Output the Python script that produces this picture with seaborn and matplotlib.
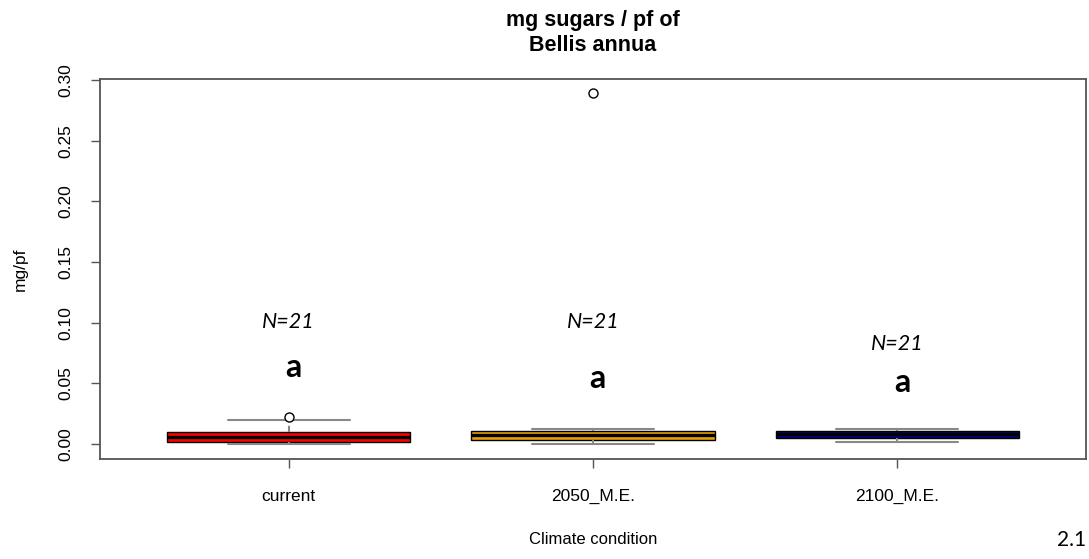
import numpy as np
import pandas as pd
import matplotlib
matplotlib.use("Agg")
import matplotlib.pyplot as plt
import seaborn as sns

categories = ["current", "2050_M.E.", "2100_M.E."]
current_vals = [0.0003, 0.0006, 0.0008, 0.0010, 0.0012, 0.0014, 0.0022, 0.0030, 0.0038, 0.0046, 0.0055,
                0.0062, 0.0070, 0.0078, 0.0087, 0.0096, 0.0110, 0.0130, 0.0160, 0.0198, 0.0225]
y2050_vals = [0.0002, 0.0010, 0.0016, 0.0022, 0.0028, 0.0033, 0.0041, 0.0050, 0.0058, 0.0066, 0.0074,
              0.0080, 0.0087, 0.0095, 0.0102, 0.0110, 0.0114, 0.0118, 0.0121, 0.0126, 0.2896]
y2100_vals = [0.0016, 0.0024, 0.0032, 0.0038, 0.0045, 0.0052, 0.0057, 0.0062, 0.0067, 0.0072, 0.0078,
              0.0083, 0.0088, 0.0094, 0.0100, 0.0107, 0.0111, 0.0115, 0.0118, 0.0121, 0.0124]
box_colors = ["#FF0000", "#E89F00", "#000080"]
n_labels = ["N=21", "N=21", "N=21"]
n_label_y = [0.1006, 0.1006, 0.0824]
letters = ["a", "a", "a"]
letter_y = [0.0627, 0.0536, 0.0503]
yticks = [0.00, 0.05, 0.10, 0.15, 0.20, 0.25, 0.30]

df = pd.DataFrame({
    "condition": np.repeat(categories, [len(current_vals), len(y2050_vals), len(y2100_vals)]),
    "value": current_vals + y2050_vals + y2100_vals,
})

sns.set_style("white")
plt.rcParams["font.family"] = ["Liberation Sans", "DejaVu Sans"]
plt.rcParams["text.color"] = "black"
plt.rcParams["axes.labelcolor"] = "black"
plt.rcParams["xtick.color"] = "black"
plt.rcParams["ytick.color"] = "black"

fig = plt.figure(figsize=(10.89, 5.59), dpi=100)
ax = fig.add_axes([100 / 1089, 1 - 459 / 559, 986 / 1089, 380 / 559])

sns.boxplot(
    data=df, x="condition", y="value", hue="condition", order=categories, hue_order=categories,
    palette=dict(zip(categories, box_colors)), saturation=1, width=0.8, whis=1.5,
    linecolor="black", linewidth=1.0, legend=False, ax=ax,
    whiskerprops=dict(color="#888888", linewidth=1.5, linestyle=(0, (3, 3))),
    capprops=dict(color="#888888", linewidth=1.5),
    medianprops=dict(color="black", linewidth=2.4),
    flierprops=dict(marker="o", markerfacecolor="white", markeredgecolor="black",
                    markersize=6.5, markeredgewidth=1.0),
)

ax.set_xlim(-0.62, 2.62)
ax.set_ylim(-0.0124, 0.3008)
ax.set_yticks(yticks)
ax.set_yticklabels([f"{t:.2f}" for t in yticks], rotation=90, va="center")
ax.tick_params(axis="y", length=6.5, width=1.0, color="#555555", labelcolor="black", pad=13,
               labelsize=12.5, left=True)
ax.tick_params(axis="x", length=6.5, width=1.0, color="#555555", labelcolor="black", pad=15,
               labelsize=12.5, bottom=True)
for s in ax.spines.values():
    s.set_visible(True)
    s.set_color("#555555")
    s.set_linewidth(1.3)

ax.set_xlabel("Climate condition", fontsize=12, color="black")
ax.set_ylabel("mg/pf", fontsize=12.5, color="black")
ax.xaxis.set_label_coords(0.5, -(532 - 459) / 380)
ax.yaxis.set_label_coords(-(100 - 28) / 986, 0.5)

fig.text(593 / 1089, 1 - 33 / 559, "mg sugars / pf of\nBellis annua", ha="center", va="center",
         fontsize=15.5, fontweight="bold", linespacing=1.3, color="black")

for i in range(len(categories)):
    ax.text(i, n_label_y[i], n_labels[i], ha="center", va="center", fontsize=15.5,
            style="italic", family=["Lato", "DejaVu Sans"], color="black")
    ax.text(i + 0.015, letter_y[i], letters[i], ha="center", va="center", fontsize=23,
            fontweight="bold", family=["Lato", "DejaVu Sans"], color="black")

fig.text(1072 / 1089, 1 - 540 / 559, "2.1", ha="center", va="center", fontsize=15,
         family=["Lato", "DejaVu Sans"], color="black")

fig.savefig("out.png", dpi=100)
